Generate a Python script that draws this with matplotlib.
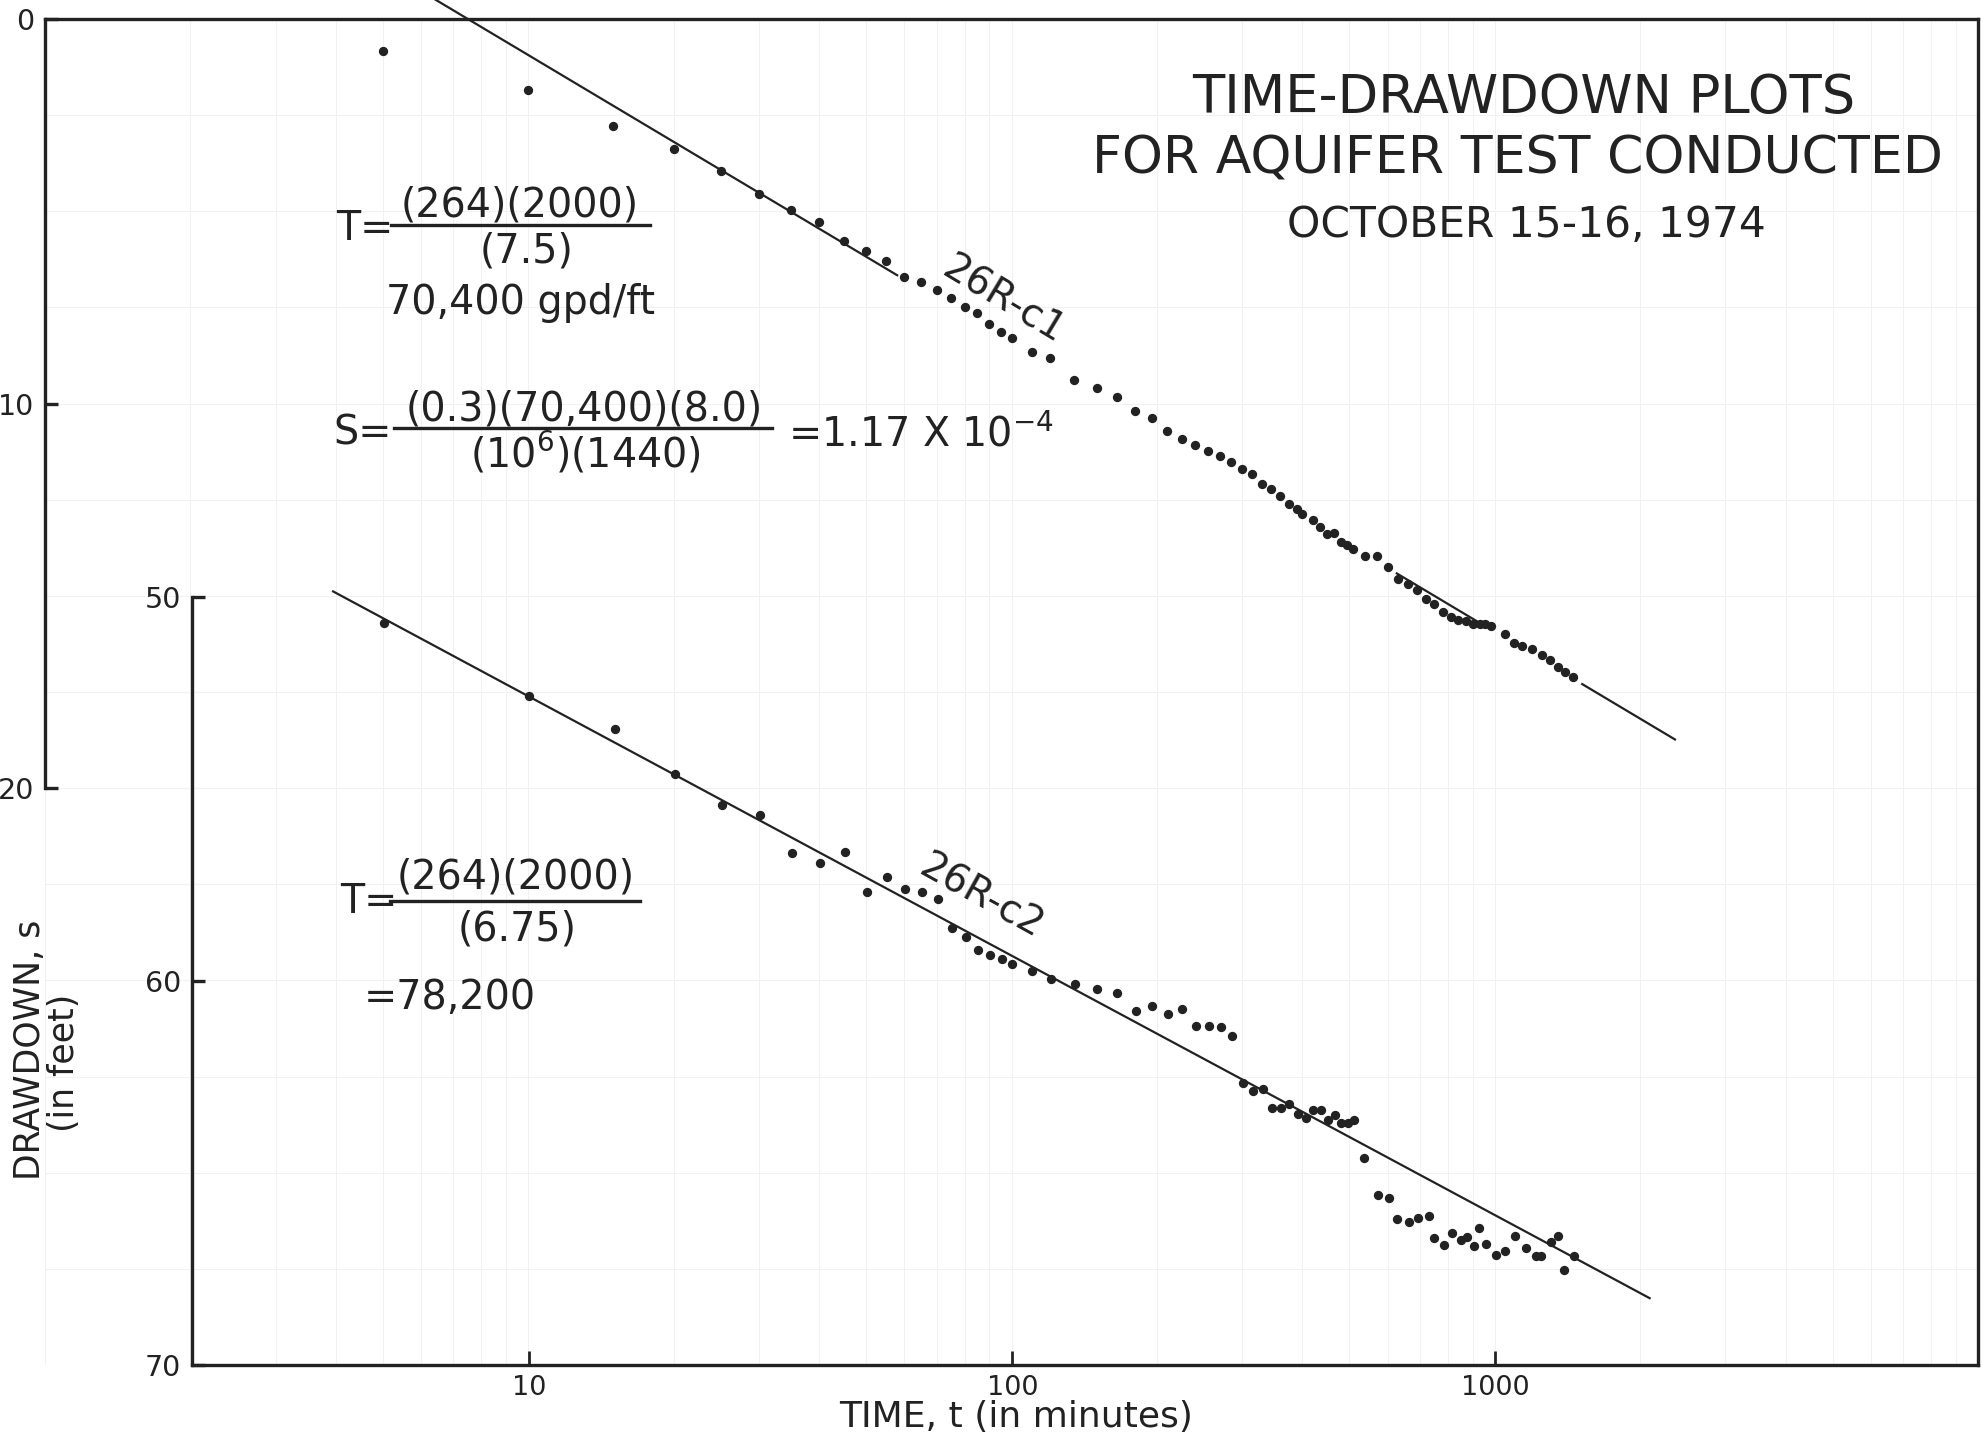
import numpy as np
import matplotlib
matplotlib.use('Agg')
import matplotlib.pyplot as plt
from matplotlib.lines import Line2D
from matplotlib.ticker import LogLocator, MultipleLocator, NullLocator, FixedLocator, NullFormatter

plt.rcParams['font.family'] = ['DejaVu Sans']
plt.rcParams['mathtext.default'] = 'regular'

# well 26R-c1 (upper plot, drawdown 0-35 ft)
c1_time = [5, 10, 15, 20, 25, 30, 35, 40, 45, 50, 55, 60, 65, 70, 75, 80, 85, 90, 95, 100,
           110, 120, 135, 150, 165, 180, 195, 210, 225, 240, 255, 270, 285, 300, 315, 330,
           345, 360, 375, 390, 400, 420, 435, 450, 465, 480, 495, 510,
           540, 570, 600, 630, 660, 690, 720, 750, 780, 810, 840, 870, 900, 930, 955, 980,
           1050, 1095, 1140, 1195, 1255, 1300, 1350, 1395, 1455]
c1_draw = [0.83, 1.85, 2.77, 3.37, 3.95, 4.55, 4.97, 5.27, 5.77, 6.03, 6.30, 6.70, 6.83, 7.05,
           7.26, 7.50, 7.65, 7.93, 8.15, 8.30,
           8.65, 8.82, 9.39, 9.59, 9.82, 10.19, 10.38, 10.71, 10.93, 11.08, 11.23, 11.37,
           11.53, 11.69, 11.84, 12.08, 12.22, 12.41, 12.60, 12.75, 12.87, 13.03, 13.20, 13.38,
           13.36, 13.59, 13.68, 13.78,
           13.96, 13.97, 14.26, 14.56, 14.68, 14.85, 15.09, 15.21, 15.41, 15.54, 15.63, 15.65,
           15.72, 15.73, 15.74, 15.78,
           15.98, 16.22, 16.30, 16.39, 16.54, 16.67, 16.85, 16.99, 17.11]

# well 26R-c2 (lower plot, drawdown 50-70 ft)
c2_time = [5, 10, 15, 20, 25, 30, 35, 40, 45, 50, 55, 60, 65, 70, 75, 80, 85, 90, 95, 100,
           110, 120, 135, 150, 165, 180, 195, 210, 225, 240, 255, 270, 285, 300, 315, 330,
           345, 360, 375, 390, 405, 420, 435, 450, 465, 480, 495, 510,
           536, 573, 603, 625, 662, 691, 728, 748, 782, 813, 849, 874, 906, 928, 955,
           1005, 1050, 1100, 1159, 1214, 1243, 1305, 1352, 1391, 1459]
c2_draw = [50.68, 52.57, 53.43, 54.62, 55.42, 55.68, 56.67, 56.93, 56.65, 57.68, 57.29, 57.60,
           57.69, 57.86, 58.62, 58.85, 59.18, 59.31, 59.44, 59.57,
           59.75, 59.96, 60.07, 60.20, 60.31, 60.79, 60.66, 60.85, 60.74, 61.18, 61.18, 61.20,
           61.44, 62.65, 62.87, 62.80,
           63.30, 63.32, 63.21, 63.47, 63.56, 63.36, 63.36, 63.62, 63.49, 63.69, 63.69, 63.63,
           64.60, 65.57, 65.66, 66.20, 66.27, 66.18, 66.12, 66.70, 66.87, 66.57, 66.75, 66.66,
           66.90, 66.42, 66.85,
           67.13, 67.04, 66.64, 66.96, 67.16, 67.16, 66.79, 66.65, 67.52, 67.17]

# straight-line fits: drawdown per log cycle
c1_slope, c1_t0 = 7.5, 7.5
c1_segments = [(6.4, 58), (627, 920), (1517, 2360)]
c2_slope, c2_intercept = 6.75, 45.85
c2_span = (3.92, 2089)

W, H = 1986, 1445
ink = '#222222'

fig = plt.figure(figsize=(W / 100, H / 100), dpi=100)
fig.patch.set_facecolor('white')


def fx(x):
    return x / W


def fy(y):
    return 1 - y / H


ax1 = fig.add_axes([fx(45), fy(1365), (1978 - 45) / W, (1365 - 19) / H])
ax2 = fig.add_axes([fx(192), fy(1365), (1978 - 192) / W, (1365 - 597) / H])
ax2.patch.set_alpha(0)

# upper axes
ax1.set_xscale('log')
ax1.set_xlim(1, 10000)
ax1.set_ylim(35, 0)
ax1.spines['bottom'].set_visible(False)
ax1.spines['left'].set_bounds(0, 20)
for sp in ax1.spines.values():
    sp.set_linewidth(2.4)
    sp.set_color(ink)
ax1.yaxis.set_major_locator(FixedLocator([0, 10, 20]))
ax1.yaxis.set_minor_locator(MultipleLocator(2.5))
ax1.xaxis.set_major_locator(LogLocator(base=10))
ax1.xaxis.set_minor_locator(LogLocator(base=10, subs=np.arange(2, 10)))
ax1.xaxis.set_minor_formatter(NullFormatter())
ax1.grid(True, which='both', color='#f1f1f1', lw=0.7)
ax1.set_axisbelow(True)
ax1.tick_params(axis='x', which='both', bottom=False, labelbottom=False)
ax1.tick_params(axis='y', which='minor', left=False)
ax1.tick_params(axis='y', which='major', direction='in', length=9, width=2.4,
                labelsize=20.5, pad=8, colors=ink)

# lower axes
ax2.set_xscale('log')
ax2.set_xlim(2, 10000)
ax2.set_ylim(70, 50)
ax2.spines['top'].set_visible(False)
ax2.spines['right'].set_visible(False)
for sp in ax2.spines.values():
    sp.set_linewidth(2.4)
    sp.set_color(ink)
ax2.set_yticks([50, 60, 70])
ax2.set_xticks([10, 100, 1000])
ax2.set_xticklabels(['10', '100', '1000'])
ax2.xaxis.set_minor_locator(NullLocator())
ax2.yaxis.set_minor_locator(NullLocator())
ax2.tick_params(axis='y', direction='in', length=9, width=2.4, labelsize=20.5, pad=8, colors=ink)
ax2.tick_params(axis='x', direction='in', length=10, width=2.0, labelsize=19.5, pad=7, colors=ink)

# data and fitted lines
ax1.plot(c1_time, c1_draw, 'o', ms=5.7, color=ink, zorder=3)
for t_a, t_b in c1_segments:
    tt = np.array([t_a, t_b])
    ax1.plot(tt, c1_slope * np.log10(tt / c1_t0), '-', color=ink, lw=1.6, clip_on=False)

ax2.plot(c2_time, c2_draw, 'o', ms=5.7, color=ink, zorder=3)
tt = np.array(c2_span)
ax2.plot(tt, c2_intercept + c2_slope * np.log10(tt), '-', color=ink, lw=1.6, clip_on=False)

ax1.text(96, 7.3, '26R-c1', rotation=-31, rotation_mode='anchor', ha='center', va='center',
         fontsize=28, color=ink)
ax2.text(86, 57.8, '26R-c2', rotation=-29, rotation_mode='anchor', ha='center', va='center',
         fontsize=28, color=ink)

# title
fig.text(fx(1524), fy(113), 'TIME-DRAWDOWN PLOTS', ha='center', va='baseline', fontsize=38, color=ink)
fig.text(fx(1518), fy(173), 'FOR AQUIFER TEST CONDUCTED', ha='center', va='baseline', fontsize=37.5, color=ink)
fig.text(fx(1526), fy(237), 'OCTOBER 15-16, 1974', ha='center', va='baseline', fontsize=30.5, color=ink)


def bar(x0, x1, y):
    fig.add_artist(Line2D([fx(x0), fx(x1)], [fy(y), fy(y)], transform=fig.transFigure,
                          lw=2.4, color=ink))


fs = 28.5
# T for 26R-c1
fig.text(fx(336), fy(240), 'T=', ha='left', va='baseline', fontsize=fs, color=ink)
fig.text(fx(520), fy(216), '(264)(2000)', ha='center', va='baseline', fontsize=fs, color=ink)
bar(391, 650, 225)
fig.text(fx(527), fy(263), '(7.5)', ha='center', va='baseline', fontsize=fs, color=ink)
fig.text(fx(386), fy(314), '70,400 gpd/ft', ha='left', va='baseline', fontsize=fs, color=ink)

# S for 26R-c1
fig.text(fx(333), fy(444), 'S=', ha='left', va='baseline', fontsize=fs, color=ink)
fig.text(fx(584), fy(421), '(0.3)(70,400)(8.0)', ha='center', va='baseline', fontsize=fs, color=ink)
bar(394, 772, 428)
fig.text(fx(585), fy(467), '(10$^{6}$)(1440)', ha='center', va='baseline', fontsize=fs, color=ink)
fig.text(fx(788), fy(446), '=1.17 X 10$^{-4}$', ha='left', va='baseline', fontsize=fs, color=ink)

# T for 26R-c2
fig.text(fx(340), fy(913), 'T=', ha='left', va='baseline', fontsize=fs, color=ink)
fig.text(fx(516), fy(889), '(264)(2000)', ha='center', va='baseline', fontsize=fs, color=ink)
bar(390, 640, 901)
fig.text(fx(517), fy(941), '(6.75)', ha='center', va='baseline', fontsize=fs, color=ink)
fig.text(fx(364), fy(1009), '=78,200', ha='left', va='baseline', fontsize=fs, color=ink)

# axis titles
fig.text(fx(1016), fy(1417), 'TIME, t (in minutes)', ha='center', va='center', fontsize=26, color=ink)
fig.text(fx(30), fy(1050), 'DRAWDOWN, s', rotation=90, ha='center', va='center', fontsize=25, color=ink)
fig.text(fx(64), fy(1063), '(in feet)', rotation=90, ha='center', va='center', fontsize=25, color=ink)

fig.savefig('out.png', dpi=100, facecolor=fig.get_facecolor())
